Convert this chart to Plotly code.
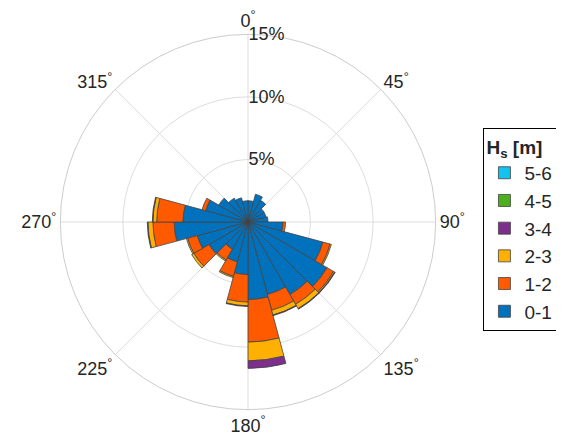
import plotly.graph_objects as go

# sector centres (compass degrees, clockwise from north), 15 deg sectors
directions = [7.5 + 15 * k for k in range(24)]

# cumulative frequency (%) for each Hs class
cum_0_1 = [1.7, 2.3, 2.0, 1.5, 1.5, 1.6, 2.8, 6.2, 7.3, 6.7, 6.0, 6.2,
           4.2, 3.3, 2.5, 3.6, 4.2, 5.9, 5.2, 3.5, 2.7, 2.2, 2.0, 1.7]
cum_1_2 = [1.7, 2.3, 2.0, 1.5, 1.5, 1.6, 3.0, 6.8, 7.9, 7.6, 7.3, 9.6,
           6.4, 4.5, 3.5, 5.0, 5.0, 7.6, 7.3, 3.8, 2.7, 2.2, 2.0, 1.7]
cum_2_3 = [1.7, 2.3, 2.0, 1.5, 1.5, 1.6, 3.0, 6.9, 8.0, 8.0, 7.7, 11.1,
           6.7, 4.6, 3.6, 5.2, 5.1, 8.0, 7.6, 3.8, 2.7, 2.2, 2.0, 1.7]
cum_3_4 = [1.7, 2.3, 2.0, 1.5, 1.5, 1.6, 3.0, 6.9, 8.05, 8.05, 7.75, 11.7,
           6.75, 4.6, 3.6, 5.2, 5.1, 8.05, 7.65, 3.8, 2.7, 2.2, 2.0, 1.7]
cumulative = [cum_0_1, cum_1_2, cum_2_3, cum_3_4, cum_3_4, cum_3_4]
classes = ["0-1", "1-2", "2-3", "3-4", "4-5", "5-6"]
colors = ["#0072BD", "#FF5a00", "#FFB000", "#7E2F8E", "#4DAF1B", "#11C4F0"]
radial_ticks = [5, 10, 15]
radial_labels = ["5%", "10%", "15%"]

fig = go.Figure()
prev = [0] * 24
for name, cum, col in zip(classes, cumulative, colors):
    inc = [c - p for c, p in zip(cum, prev)]
    fig.add_trace(go.Barpolar(r=inc, theta=directions, width=15, name=name,
                              marker=dict(color=col, line=dict(color="#444", width=0.8))))
    prev = cum

fig.update_layout(
    width=564, height=439,
    margin=dict(l=0, r=0, t=0, b=0),
    paper_bgcolor="white",
    font=dict(family="Liberation Sans, Arial", size=18, color="#262626"),
    polar=dict(
        domain=dict(x=[50 / 564, 430 / 564], y=[0.085, 0.94]),
        bgcolor="white",
        barmode="stack",
        angularaxis=dict(direction="clockwise", rotation=90,
                         tickvals=[0, 45, 90, 135, 180, 225, 270, 315],
                         ticktext=[f"{a}<sup>°</sup>" for a in range(0, 360, 45)],
                         gridcolor="#dddddd", linecolor="#cccccc", ticks="",
                         tickfont=dict(size=18)),
        radialaxis=dict(range=[0, 15], tickmode="array", tickvals=radial_ticks,
                        ticktext=radial_labels, angle=90, tickangle=90,
                        showline=False, ticks="",
                        gridcolor="#dddddd", tickfont=dict(size=18)),
    ),
    legend=dict(title=dict(text="<b>H<sub>s</sub> [m]</b>", font=dict(size=19)),
                traceorder="reversed", x=0.843, y=0.495, yanchor="middle",
                bordercolor="black", borderwidth=1, font=dict(size=19),
                itemwidth=30, tracegroupgap=0),
)

fig.write_html("out.html")
